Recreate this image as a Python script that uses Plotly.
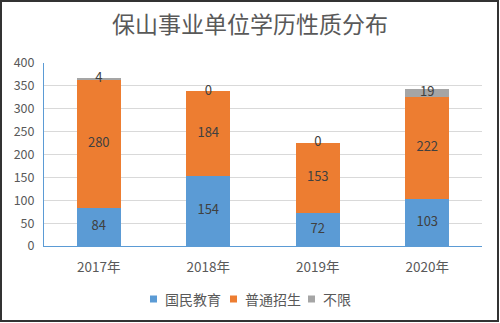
import plotly.graph_objects as go

categories = ["2017年", "2018年", "2019年", "2020年"]
guomin = [84, 154, 72, 103]
putong = [280, 184, 153, 222]
buxian = [4, 0, 0, 19]
series_names = ["国民教育", "普通招生", "不限"]
colors = ["#5B9BD5", "#ED7D31", "#A5A5A5"]
y_ticks = [0, 50, 100, 150, 200, 250, 300, 350, 400]

FONT = "Noto Sans CJK SC, Noto Sans, sans-serif"
fig = go.Figure()

series = [guomin, putong, buxian]
base = [0] * len(categories)
for name, vals, col in zip(series_names, series, colors):
    fig.add_trace(go.Bar(x=categories, y=vals, name=name, showlegend=False,
                         marker=dict(color=col, line=dict(width=0))))
    mids = [b + v / 2 for b, v in zip(base, vals)]
    fig.add_trace(go.Scatter(x=categories, y=mids, mode="text", text=[str(v) for v in vals],
                             textfont=dict(size=13, color="#404040", family=FONT),
                             showlegend=False, hoverinfo="skip", cliponaxis=False))
    base = [b + v for b, v in zip(base, vals)]

L, R, T, B = 44, 18, 63, 77
W, H = 500, 323
pw, ph = W - L - R, H - T - B

def px(x):
    return (x - L) / pw

def py(y):
    return (H - B - y) / ph

# compact legend below the plot (layout positions in pixels)
legend_square_x = [150, 230, 308]
legend_y = 299
for name, col, sx in zip(series_names, colors, legend_square_x):
    fig.add_shape(type="rect", xref="paper", yref="paper",
                  x0=px(sx), x1=px(sx + 7), y0=py(legend_y + 3.5), y1=py(legend_y - 3.5),
                  fillcolor=col, line=dict(width=0))
    fig.add_annotation(xref="paper", yref="paper", x=px(sx + 13), y=py(legend_y),
                       xanchor="left", yanchor="middle", text=name, showarrow=False,
                       font=dict(size=14, color="#595959", family=FONT))

fig.add_shape(type="rect", xref="paper", yref="paper",
              x0=px(1), x1=px(W - 2), y0=py(H - 2), y1=py(1),
              line=dict(color="#333333", width=2), layer="above")

fig.update_layout(
    width=W, height=H,
    margin=dict(l=L, r=R, t=T, b=B),
    barmode="stack", bargap=0.6,
    paper_bgcolor="white", plot_bgcolor="white",
    font=dict(family=FONT, color="#595959", size=12),
    showlegend=False,
    title=dict(text="保山事业单位学历性质分布", x=0.5, xref="container", xanchor="center",
               y=1 - 25 / H, yanchor="middle", font=dict(size=23, color="#595959", family=FONT)),
    xaxis=dict(showline=True, linecolor="#5B9BD5", linewidth=1, ticks="", tickfont=dict(size=13.5),
               range=[-0.5, 3.5], ticklabelstandoff=9),
    yaxis=dict(range=[0, 400], tickvals=y_ticks, showgrid=True, gridcolor="#D9D9D9",
               showline=True, linecolor="#5B9BD5", linewidth=1, ticks="",
               tickfont=dict(size=12.5), zeroline=False, ticklabelstandoff=6),
)

fig.write_html("out.html")
